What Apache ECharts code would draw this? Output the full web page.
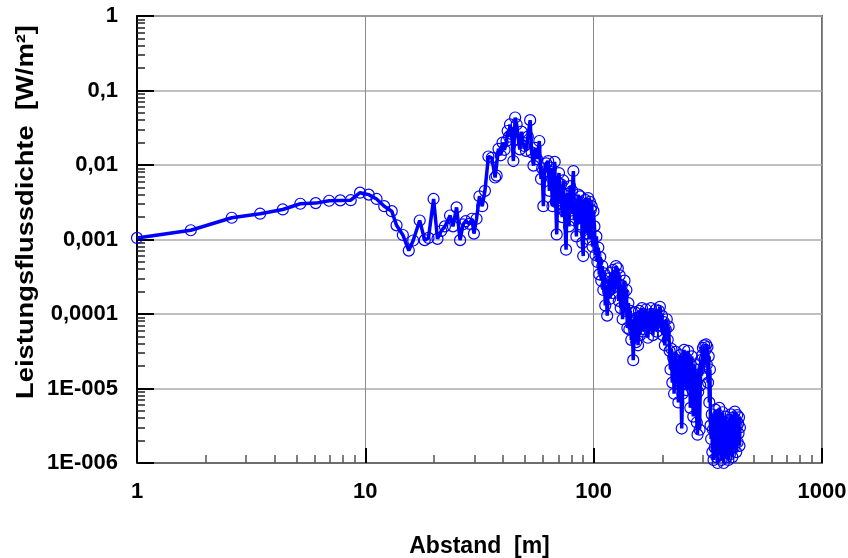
<!DOCTYPE html>
<html>
<head>
<meta charset="utf-8">
<script src="https://cdn.jsdelivr.net/npm/echarts@6/dist/echarts.min.js"></script>
<style>html,body{margin:0;padding:0;background:#fff;}#chart{width:848px;height:558px;}</style>
</head>
<body>
<div id="chart"></div>
<script>
// Distance [m]
const distance = [
1, 1.72, 2.6, 3.46, 4.35, 5.19, 6.06, 6.94, 7.77, 8.63, 9.48, 10.35, 11.2, 12.1, 13.05, 13.7, 14.6, 15.5, 16.2, 17.3,
18.2, 18.9, 19.9, 20.7, 21.5, 22.3, 23.5, 24.2, 25.1, 26, 26.8, 27.5, 28.6, 29.3, 29.9, 30.7, 31.6, 32.5, 33.4, 34.6,
35.8, 37.0, 37.6, 38.3, 39.2, 39.9, 40.7, 41.5, 42.0, 42.6, 43.0, 43.8, 44.5, 45.3, 46.0, 46.8, 47.5, 48.3, 49.0, 49.7,
50.5, 51.5, 52.7, 53.5, 54.5, 55.5, 56.5, 57.8, 58.8, 59.5, 60.2, 61.0, 62.0, 63.2, 64.0, 65.0, 66.0, 66.8, 67.5, 68.2,
68.9, 69.7, 70.5, 71.3, 72.0, 72.8, 73.6, 74.5, 75.7, 76.5, 77.3, 78.0, 78.8, 79.6, 80.5, 81.5, 82.3, 83.1, 84.0, 84.8,
85.7, 86.5, 87.4, 88.3, 89.2, 90.0, 90.9, 91.8, 92.7, 93.6, 94.5, 95.4, 96.3, 97.2, 98.0, 98.9, 99.8, 100.8, 101.8, 102.8,
103.8, 104.8, 105.8, 106.9, 108.0, 109.1, 110.2, 111.3, 112.4, 113.5, 114.6, 115.7, 116.8, 118.0, 119.2, 120.4, 121.6, 122.8, 124.0, 125.2,
126.4, 127.6, 128.8, 130.0, 131.3, 132.6, 133.9, 135.2, 136.5, 137.8, 139.1, 140.5, 141.9, 143.3, 144.7, 146.1, 147.5, 149.0, 150.5, 152.0,
153.5, 155.0, 156.5, 158.0, 159.6, 161.2, 162.8, 164.4, 166.0, 167.7, 169.4, 171.1, 172.8, 174.5, 176.3, 178.1, 179.9, 181.7, 183.5, 185.4,
187.3, 189.2, 191.1, 193.0, 195.0, 197.0, 199.0, 201.0, 203.0, 205.0, 207.0, 209.0, 211.0, 213.0, 215.0, 217.0, 219.0, 221.0, 223.0, 225.0,
227.0, 229.0, 231.0, 233.0, 235.0, 237.0, 239.0, 241.0, 243.0, 245.0, 247.0, 249.0, 251.0, 253.0, 255.0, 257.0, 259.0, 261.0, 263.0, 265.0,
267.0, 269.0, 271.0, 273.0, 275.0, 277.0, 279.0, 281.0, 283.0, 285.0, 287.0, 289.0, 291.0, 293.0, 295.0, 297.0, 299.0, 301.0, 303.0, 305.0,
307.0, 309.0, 311.0, 313.0, 315.0, 317.0, 319.0, 321.0, 323.0, 325.0, 327.0, 329.0, 331.0, 333.0, 335.0, 337.0, 339.0, 341.0, 343.0, 345.0,
347.0, 349.0, 351.0, 353.0, 355.0, 357.0, 359.0, 361.0, 363.0, 365.0, 367.0, 369.0, 371.0, 373.0, 375.0, 377.0, 379.0, 381.0, 383.0, 385.0,
387.0, 389.0, 391.0, 393.0, 395.0, 397.0, 399.0, 401.0, 403.0, 405.0, 407.0, 409.0, 411.0, 413.0, 415.0, 417.0, 419.0, 421.0, 423.0, 425.0,
427.0, 429.0, 431.0, 433.0, 435.0, 437.0
];
// Leistungsflussdichte [W/m²]
const flux = [
0.00105, 0.00133, 0.00196, 0.00222, 0.00253, 0.00302, 0.00308, 0.00331, 0.00335, 0.00337, 0.00425, 0.0040, 0.0035, 0.0028, 0.0024, 0.00155, 0.00115, 0.00071, 0.00097, 0.0018,
0.00098, 0.00105, 0.0035, 0.00102, 0.0013, 0.0015, 0.0021, 0.0015, 0.0027, 0.00098, 0.0016, 0.00176, 0.00162, 0.0019, 0.0012, 0.0019, 0.0038, 0.0028, 0.0045, 0.0130,
0.0125, 0.0068, 0.0072, 0.0165, 0.0135, 0.020, 0.016, 0.021, 0.0286, 0.024, 0.035, 0.026, 0.0113, 0.0434, 0.035, 0.022, 0.0162, 0.028, 0.020, 0.018,
0.0155, 0.024, 0.040, 0.0148, 0.0098, 0.017, 0.012, 0.021, 0.0065, 0.009, 0.0028, 0.0082, 0.0105, 0.0113, 0.0045, 0.0092, 0.0028, 0.0060, 0.011, 0.0032,
0.00117, 0.0058, 0.0078, 0.0030, 0.0055, 0.0020, 0.0062, 0.0024, 0.00073, 0.0041, 0.0035, 0.0015, 0.0052, 0.0022, 0.0045, 0.0083, 0.0018, 0.0033, 0.0011, 0.0029,
0.0040, 0.0016, 0.0038, 0.0031, 0.0009, 0.0006, 0.0027, 0.0034, 0.0012, 0.0030, 0.0036, 0.0010, 0.0032, 0.0025, 0.0028, 0.0008, 0.0024, 0.0015, 0.00062, 0.0011,
0.00050, 0.00078, 0.00034, 0.00058, 0.00028, 0.00044, 0.00021, 0.00035, 0.00013, 0.00024, 0.000095, 0.00020, 0.00030, 0.00016, 0.00036, 0.00022, 0.00039, 0.00019, 0.00032, 0.00044,
0.00026, 0.00041, 0.00015, 0.00033, 0.00012, 0.00024, 0.000085, 0.00019, 0.00028, 0.00011, 0.00021, 0.000065, 0.00014, 0.000062, 0.00011, 0.000045, 0.000085, 0.000024, 0.00006, 0.000105,
0.000042, 0.000088, 0.000038, 0.00011, 0.000052, 0.000095, 0.00012, 0.000058, 0.0001, 0.000062, 0.000115, 0.00007, 0.000048, 0.000098, 0.000065, 0.00012, 0.00008, 0.000052, 0.0001, 0.000072,
0.000115, 0.000058, 0.000092, 0.00011, 0.000125, 0.00007, 0.000095, 0.000052, 0.000078, 0.000038, 0.000062, 0.000085, 0.000045, 0.000068, 0.000032, 0.000018, 0.000034, 0.000012, 0.000026, 0.0000085,
0.00002, 0.000031, 0.000014, 0.000024, 0.0000065, 0.000017, 0.000028, 0.000011, 0.0000029, 0.0000085, 0.000022, 0.000033, 0.000015, 0.000026, 0.0000095, 0.000019, 0.000032, 0.000012, 0.000022, 0.0000055,
0.000016, 0.000027, 0.0000095, 0.0000042, 0.000013, 0.000021, 0.0000075, 0.000015, 0.0000035, 0.0000024, 0.000009, 0.000018, 0.0000028, 0.000011, 0.000024, 0.000015, 0.000028, 0.000035, 0.000019, 0.000038,
0.000025, 0.000033, 0.000039, 0.000021, 0.000036, 0.000012, 0.000027, 0.0000065, 0.000018, 0.0000032, 0.0000021, 0.0000045, 0.0000014, 0.0000028, 0.0000011, 0.0000038, 0.0000016, 0.0000052, 0.0000025, 0.0000012,
0.0000033, 0.000001, 0.0000044, 0.0000019, 0.0000055, 0.0000028, 0.0000013, 0.0000036, 0.0000011, 0.0000024, 0.0000048, 0.0000017, 0.000001, 0.0000031, 0.0000014, 0.0000042, 0.0000022, 0.0000012, 0.0000035, 0.0000016,
0.0000027, 0.0000011, 0.0000038, 0.0000021, 0.0000013, 0.0000029, 0.0000045, 0.0000018, 0.0000033, 0.0000012, 0.0000026, 0.0000041, 0.0000016, 0.0000036, 0.0000049, 0.0000022, 0.0000038, 0.0000014, 0.0000031, 0.0000044,
0.0000019, 0.0000034, 0.0000025, 0.0000041, 0.0000017, 0.000003
];
// Tick labels
const xTickValues = [1, 10, 100, 1000];
const xTickLabels = ['1', '10', '100', '1000'];
const yTickValues = [1, 0.1, 0.01, 0.001, 0.0001, 0.00001, 0.000001];
const yTickLabels = ['1', '0,1', '0,01', '0,001', '0,0001', '1E-005', '1E-006'];
const xTitle = 'Abstand  [m]';
const yTitle = 'Leistungsflussdichte  [W/m²]';

const seriesData = distance.map((d, i) => [d, flux[i]]);

function labelFor(values, labels, v) {
  const lv = Math.round(Math.log10(v));
  for (let i = 0; i < values.length; i++) {
    if (Math.round(Math.log10(values[i])) === lv) return labels[i];
  }
  return '';
}
const xMinor = [];
for (let e = 0; e < 3; e++) for (let k = 2; k <= 9; k++) xMinor.push(k * Math.pow(10, e));
const yMinor = [];
for (let e = -6; e < 0; e++) for (let k = 2; k <= 9; k++) yMinor.push(+(k * Math.pow(10, e)).toPrecision(3));

const FONT = '"Liberation Sans", Arial, sans-serif';
const chart = echarts.init(document.getElementById('chart'), null, {renderer: 'canvas'});
chart.setOption({
  animation: false,
  backgroundColor: '#ffffff',
  grid: {left: 137, top: 16, right: 26, bottom: 95, outerBoundsMode: 'none', containLabel: false,
    show: true, borderColor: '#6e6e6e', borderWidth: 2, backgroundColor: 'transparent'},
  xAxis: [{
    type: 'log', logBase: 10, min: 1, max: 1000,
    name: xTitle, nameLocation: 'middle', nameGap: 72,
    nameTextStyle: {fontFamily: FONT, fontWeight: 'bold', fontSize: 23, color: '#000'},
    axisLine: {show: true, lineStyle: {color: '#6e6e6e', width: 2}},
    axisTick: {show: true, inside: true, length: 15, lineStyle: {color: '#000', width: 2}},
    axisLabel: {margin: 18, fontFamily: FONT, fontWeight: 'bold', fontSize: 22, color: '#000',
      formatter: v => labelFor(xTickValues, xTickLabels, v)},
    splitLine: {show: true, lineStyle: {color: '#8a8a8a', width: 1}}
  }, {
    type: 'log', logBase: 10, min: 1, max: 1000, position: 'bottom',
    axisLine: {show: false}, axisLabel: {show: false}, splitLine: {show: false},
    axisTick: {show: true, inside: true, length: 8, customValues: xMinor, lineStyle: {color: '#555', width: 1.5}}
  }],
  yAxis: [{
    type: 'log', logBase: 10, min: 0.000001, max: 1,
    axisLine: {show: true, lineStyle: {color: '#000', width: 2}},
    axisTick: {show: true, inside: true, length: 17, lineStyle: {color: '#000', width: 2}},
    axisLabel: {margin: 19, fontFamily: FONT, fontWeight: 'bold', fontSize: 22, color: '#000',
      formatter: v => labelFor(yTickValues, yTickLabels, v)},
    splitLine: {show: true, lineStyle: {color: '#ababab', width: 1.5}}
  }, {
    type: 'log', logBase: 10, min: 0.000001, max: 1, position: 'left',
    axisLine: {show: false}, axisLabel: {show: false}, splitLine: {show: false},
    axisTick: {show: true, inside: true, length: 8, customValues: yMinor, lineStyle: {color: '#222', width: 1.5}}
  }],
  graphic: [{
    type: 'text', x: 26, y: 212, rotation: Math.PI / 2, scaleX: 1.14,
    style: {text: yTitle, fontFamily: FONT, fontWeight: 'bold', fontSize: 24, fill: '#000', align: 'center', verticalAlign: 'middle'}
  }],
  series: [{
    type: 'line', xAxisIndex: 0, yAxisIndex: 0,
    data: seriesData,
    showAllSymbol: true,
    symbol: 'circle', symbolSize: 11,
    itemStyle: {color: 'rgba(0,0,0,0)', borderColor: '#0000ff', borderWidth: 1.2},
    lineStyle: {color: '#0000ff', width: 3.5},
    emphasis: {disabled: true},
    clip: true
  }]
});
</script>
</body>
</html>
